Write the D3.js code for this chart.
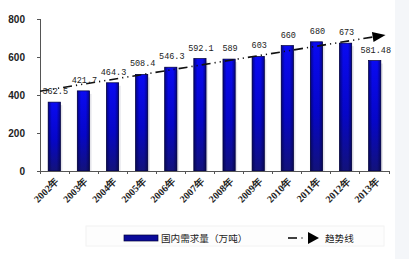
<!DOCTYPE html>
<meta charset="utf-8">
<script src="https://cdn.jsdelivr.net/npm/d3@7"></script>
<style>
body { margin: 0; background: #fff; }
svg { display: block; }
.val { font-family: "Liberation Mono", "DejaVu Sans Mono", monospace; font-size: 8.5px; fill: #222; }
.ylab { font-family: "Liberation Sans", Arial, sans-serif; font-size: 10px; font-weight: bold; fill: #222; }
.xlab { font-family: "Liberation Serif", serif; font-size: 10px; font-weight: bold; fill: #222; }
.leg { font-family: "Noto Sans CJK SC", sans-serif; font-size: 9.6px; fill: #222; }
</style>
<body>
<svg></svg>
<script>
var width = 409, height = 259;

// data
var years = ["2002年","2003年","2004年","2005年","2006年","2007年","2008年","2009年","2010年","2011年","2012年","2013年"];
var demand = [362.5, 421.7, 464.3, 508.4, 546.3, 592.1, 589, 603, 660, 680, 673, 581.48];
var labels = ["362.5","421.7","464.3","508.4","546.3","592.1","589","603","660","680","673","581.48"];
var yTicks = [0, 200, 400, 600, 800];
// trend line drawn by hand in the original: value at first and last category
var trendStart = 420, trendEnd = 705;

var svg = d3.select("svg").attr("width", width).attr("height", height);

// faint panel on the right edge
svg.append("rect").attr("x", 395).attr("y", 0).attr("width", 14).attr("height", height).attr("fill", "#f4f6f9");

var x = d3.scaleBand().domain(years).range([40, 389]).paddingInner(0.58).paddingOuter(0.28);
var y = d3.scaleLinear().domain([0, 800]).range([171, 19]);

var defs = svg.append("defs");
var g1 = defs.append("linearGradient").attr("id", "barv").attr("x1", 0).attr("y1", 0).attr("x2", 0).attr("y2", 1);
g1.append("stop").attr("offset", "0%").attr("stop-color", "#0a0af2");
g1.append("stop").attr("offset", "55%").attr("stop-color", "#0606c8");
g1.append("stop").attr("offset", "100%").attr("stop-color", "#12127a");
var g2 = defs.append("linearGradient").attr("id", "barh");
g2.append("stop").attr("offset", "0%").attr("stop-color", "#000030").attr("stop-opacity", 0.55);
g2.append("stop").attr("offset", "30%").attr("stop-color", "#000030").attr("stop-opacity", 0);
g2.append("stop").attr("offset", "70%").attr("stop-color", "#000030").attr("stop-opacity", 0);
g2.append("stop").attr("offset", "100%").attr("stop-color", "#000030").attr("stop-opacity", 0.55);

// bar shadows
svg.selectAll(".shadow")
    .data(demand)
    .enter().append("rect")
    .attr("x", function(d, i) { return x(years[i]) + 2; })
    .attr("y", function(d) { return y(d) + 3; })
    .attr("width", x.bandwidth())
    .attr("height", function(d) { return y(0) - y(d) - 3; })
    .attr("fill", "#e4e4ea");

svg.selectAll(".bar")
    .data(demand)
    .enter().append("rect")
    .attr("x", function(d, i) { return x(years[i]); })
    .attr("y", function(d) { return y(d); })
    .attr("width", x.bandwidth())
    .attr("height", function(d) { return y(0) - y(d); })
    .attr("fill", "url(#barv)")
    .attr("stroke", "#000038")
    .attr("stroke-width", 0.7);

svg.selectAll(".barh")
    .data(demand)
    .enter().append("rect")
    .attr("x", function(d, i) { return x(years[i]); })
    .attr("y", function(d) { return y(d); })
    .attr("width", x.bandwidth())
    .attr("height", function(d) { return y(0) - y(d); })
    .attr("fill", "url(#barh)");

// axes
var ax = svg.append("g").attr("stroke", "#555").attr("stroke-width", 1).attr("shape-rendering", "crispEdges");
ax.append("line").attr("x1", 40).attr("x2", 40).attr("y1", y(800)).attr("y2", y(0));
ax.append("line").attr("x1", 40).attr("x2", 389).attr("y1", y(0)).attr("y2", y(0));
ax.selectAll(".yt").data(yTicks).enter().append("line")
    .attr("x1", 37).attr("x2", 40)
    .attr("y1", function(d) { return y(d); }).attr("y2", function(d) { return y(d); });
ax.selectAll(".xt").data(d3.range(years.length + 1)).enter().append("line")
    .attr("x1", function(i) { return 40 + i * (349 / years.length); })
    .attr("x2", function(i) { return 40 + i * (349 / years.length); })
    .attr("y1", y(0)).attr("y2", y(0) + 3);

svg.selectAll(".ylab").data(yTicks).enter().append("text")
    .attr("class", "ylab")
    .attr("x", 25).attr("y", function(d) { return y(d) + 3.5; })
    .attr("text-anchor", "end")
    .text(function(d) { return d; });

svg.selectAll(".xlab").data(years).enter().append("text")
    .attr("class", "xlab")
    .attr("text-anchor", "end")
    .attr("transform", function(d) {
        return "translate(" + (x(d) + x.bandwidth() / 2 + 5) + "," + (y(0) + 11) + ") rotate(-45)";
    })
    .text(function(d) { return d; });

// trend line
var trend = [
    [40, y(trendStart)],
    [x(years[years.length - 1]) + x.bandwidth() / 2 - 2, y(trendEnd)]
];
svg.append("path")
    .attr("d", d3.line()(trend))
    .attr("fill", "none")
    .attr("stroke", "#111")
    .attr("stroke-width", 1.6)
    .attr("stroke-dasharray", "9,4,1.2,4,1.2,4");
var a = Math.atan2(trend[1][1] - trend[0][1], trend[1][0] - trend[0][0]) * 180 / Math.PI;
svg.append("path")
    .attr("d", "M0,-5L13,0L0,5Z")
    .attr("fill", "#000")
    .attr("transform", "translate(" + trend[1][0] + "," + trend[1][1] + ") rotate(" + a + ")");

// value labels
svg.selectAll(".val").data(demand).enter().append("text")
    .attr("class", "val")
    .attr("text-anchor", "middle")
    .attr("x", function(d, i) { return x(years[i]) + x.bandwidth() / 2 + 1; })
    .attr("y", function(d) { return y(d) - 8; })
    .text(function(d, i) { return labels[i]; });

// legend
var lg = svg.append("g");
lg.append("rect").attr("x", 86).attr("y", 226).attr("width", 298).attr("height", 20)
    .attr("fill", "#fdfdfd").attr("stroke", "#f2f2f2");
lg.append("rect").attr("x", 124).attr("y", 235).attr("width", 34).attr("height", 6)
    .attr("fill", "#0a0a9a").attr("stroke", "#000038").attr("stroke-width", 0.7);
lg.append("text").attr("class", "leg").attr("x", 161).attr("y", 242).text("国内需求量（万吨）");
lg.append("path").attr("d", "M288,238L297,238").attr("stroke", "#111").attr("stroke-width", 1.6);
lg.append("circle").attr("cx", 302).attr("cy", 238).attr("r", 0.7).attr("fill", "#111");
lg.append("path").attr("d", "M308,232L319,238L308,244Z").attr("fill", "#000");
lg.append("text").attr("class", "leg").attr("x", 325).attr("y", 242).text("趋势线");
</script>
</body>
